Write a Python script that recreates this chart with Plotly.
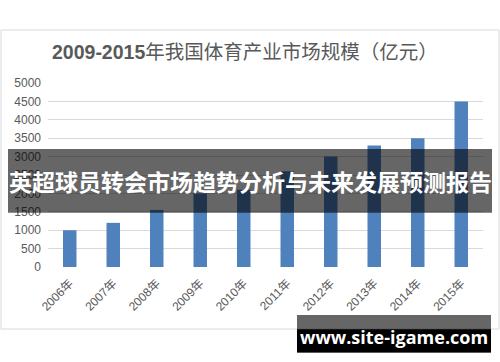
import plotly.graph_objects as go

years = ["2006年", "2007年", "2008年", "2009年", "2010年", "2011年", "2012年", "2013年", "2014年", "2015年"]
values = [1000, 1200, 1550, 2000, 2100, 2600, 3000, 3300, 3500, 4500]
y_ticks = [0, 500, 1000, 1500, 2000, 2500, 3000, 3500, 4000, 4500, 5000]

title_text = "<b>2009-2015</b>年我国体育产业市场规模（亿元）"
banner_text = "英超球员转会市场趋势分析与未来发展预测报告"
mark_text = "www.site-igame.com"

W, H = 500, 362
L, R, T, B = 48, 483, 83, 267  # plot area in pixels


def px(x):
    return (x - L) / (R - L)


def py(y):
    return (B - y) / (B - T)


fig = go.Figure(
    go.Bar(x=years, y=values, marker=dict(color="#4F81BD", line=dict(width=0)))
)

fig.update_layout(
    width=W, height=H,
    margin=dict(l=L, r=W - R, t=T, b=H - B),
    paper_bgcolor="white", plot_bgcolor="white",
    bargap=0.69,
    showlegend=False,
    font=dict(family="Liberation Sans, Noto Sans CJK SC", color="#595959"),
)

fig.update_yaxes(
    range=[0, 5000], tickvals=y_ticks, showgrid=True, gridcolor="#d9d9d9", gridwidth=1,
    zeroline=False, showline=False, tickfont=dict(size=12, color="#595959"),
    ticklabelstandoff=6,
)
fig.update_xaxes(
    tickangle=-45, showgrid=False, showline=False, zeroline=False,
    tickfont=dict(size=12, color="#595959"), ticklabelstandoff=6,
)

shapes = [
    # chart frame
    dict(type="rect", xref="paper", yref="paper", x0=px(1), x1=px(499), y0=py(329), y1=py(30),
         line=dict(color="#d9d9d9", width=1), fillcolor="rgba(0,0,0,0)", layer="below"),
    # banner band
    dict(type="rect", xref="paper", yref="paper", x0=px(8), x1=px(492), y0=py(212.7), y1=py(149),
         line=dict(width=0), fillcolor="rgba(0,0,0,0.6)", layer="above"),
    # watermark box
    dict(type="rect", xref="paper", yref="paper", x0=px(297), x1=px(491), y0=py(352.5), y1=py(315),
         line=dict(width=0), fillcolor="rgba(0,0,0,0.6)", layer="above"),
    dict(type="rect", xref="paper", yref="paper", x0=px(297), x1=px(491), y0=py(352.5), y1=py(329.3),
         line=dict(width=0), fillcolor="black", layer="above"),
]
fig.update_layout(shapes=shapes)

fig.add_annotation(
    text=title_text, xref="paper", yref="paper", x=px(245), y=py(52),
    xanchor="center", yanchor="middle", showarrow=False,
    font=dict(size=19.5, color="#595959", family="Liberation Sans, Noto Sans CJK SC"),
)
fig.add_annotation(
    text=banner_text, xref="paper", yref="paper", x=px(250), y=py(181),
    xanchor="center", yanchor="middle", showarrow=False,
    font=dict(size=23, color="white", family="Noto Sans CJK SC", weight="bold"),
)
fig.add_annotation(
    text=mark_text, xref="paper", yref="paper", x=px(393.5), y=py(337),
    xanchor="center", yanchor="middle", showarrow=False,
    font=dict(size=18, color="white", family="Open Sans", weight="bold"),
)

fig.write_html(
    "out.html",
    config={"displayModeBar": False},
    post_script="document.body.style.margin='0';document.body.style.padding='0';"
                "document.body.style.overflow='hidden';",
)
